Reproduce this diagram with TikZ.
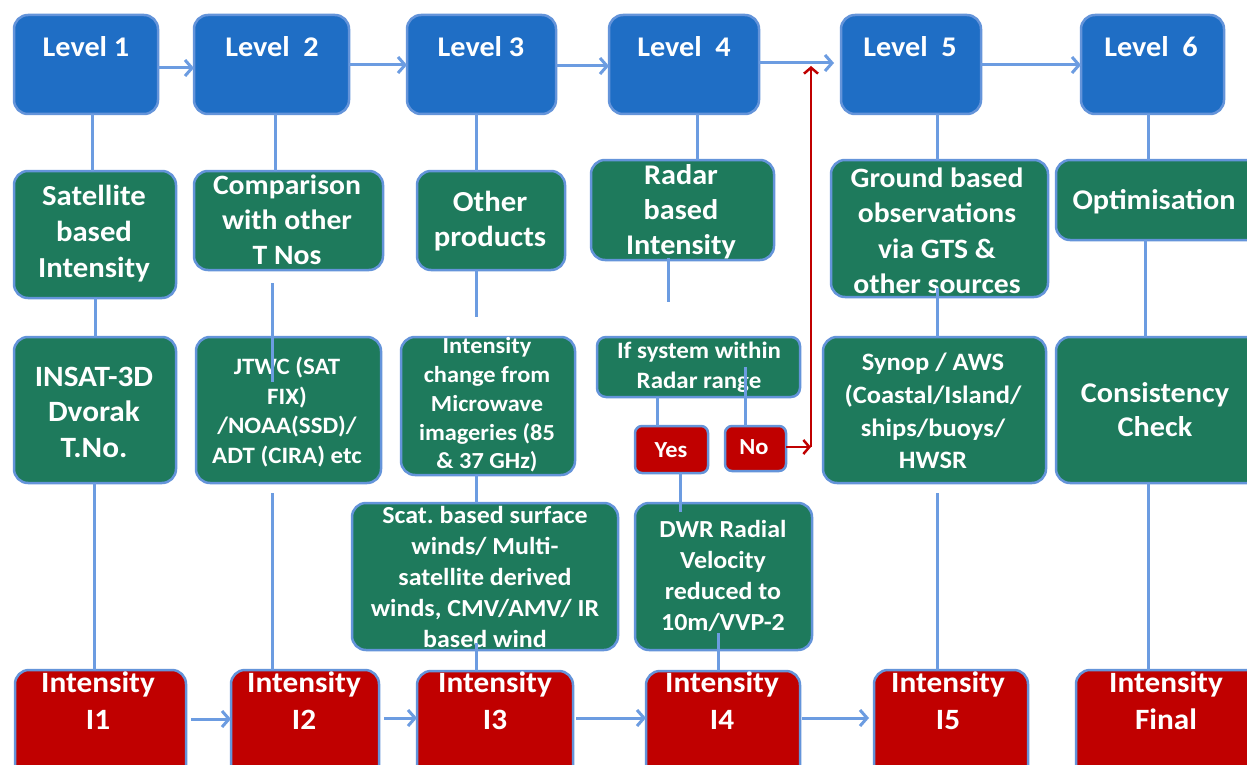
\documentclass[tikz,border=0pt]{standalone}
\usepackage{fontspec}
\setmainfont{Carlito}[FakeStretch=1.06]
\frenchspacing
\usetikzlibrary{arrows.meta}
\definecolor{bfill}{RGB}{31,110,197}
\definecolor{gfill}{RGB}{30,122,92}
\definecolor{rfill}{RGB}{192,0,0}
\definecolor{edgec}{RGB}{100,148,218}
\definecolor{connc}{RGB}{108,156,225}
\newcommand\mkbox[6]{\node[#6, minimum width={(#4)-(#2)}, minimum height={(#5)-(#3)}] (#1) at ({((#2)+(#4))/2},{((#3)+(#5))/2}) {};}
\newcommand\fsz[2]{\fontsize{#1}{#2}\selectfont\bfseries}
\tikzset{
  boxbase/.style={draw=edgec, line width=2.5pt, rounded corners=14pt, inner sep=0pt, outer sep=0pt},
  bluebox/.style={boxbase, fill=bfill},
  greenbox/.style={boxbase, fill=gfill},
  redbox/.style={boxbase, fill=rfill},
  smallgreen/.style={greenbox, rounded corners=9pt},
  smallred/.style={redbox, rounded corners=7pt},
  txt/.style={text=white, align=center, inner sep=0pt},
  conn/.style={draw=connc, line width=3pt},
  arr/.style={conn, -{Straight Barb[length=7pt,width=16pt]}},
  rarr/.style={draw=rfill, line width=2.5pt, -{Straight Barb[length=6pt,width=14pt]}}
}
\begin{document}
\begin{tikzpicture}[x=1pt,y=-1pt]
\useasboundingbox[fill=white] (0,0) rectangle (1247,765);
% top row
\mkbox{L1}{14}{15}{158}{114}{bluebox}
\mkbox{L2}{194}{15}{349}{114}{bluebox}
\mkbox{L3}{407}{15}{556}{114}{bluebox}
\mkbox{L4}{609}{15}{759}{114}{bluebox}
\mkbox{L5}{841}{15}{981}{114}{bluebox}
\mkbox{L6}{1081}{15}{1224}{114}{bluebox}
% green row 1
\mkbox{G1}{14}{171}{176}{298}{greenbox}
\mkbox{G2}{194}{171}{383}{270}{greenbox}
\mkbox{G3}{417}{171}{565}{270}{greenbox}
\mkbox{G4}{591}{160}{774}{260}{greenbox}
\mkbox{G5}{831}{160}{1048}{297}{greenbox}
\mkbox{G6}{1056}{160}{1262}{240}{greenbox}
% green row 2
\mkbox{H1}{14}{337}{176}{483}{greenbox}
\mkbox{H2}{196}{337}{381}{483}{greenbox}
\mkbox{H3}{401}{337}{575}{475}{greenbox}
\mkbox{H4}{597}{337}{800}{397}{smallgreen}
\mkbox{H5}{823}{337}{1046}{483}{greenbox}
\mkbox{H6}{1056}{337}{1262}{483}{greenbox}
\mkbox{Yes}{635}{426}{708}{473}{smallred}
\mkbox{No}{725}{426}{786}{471}{smallred}
% green row 3
\mkbox{S3}{352}{503}{618}{650}{greenbox}
\mkbox{S4}{635}{503}{812}{650}{greenbox}
% bottom row
\mkbox{I1}{15}{670}{186}{780}{redbox}
\mkbox{I2}{231}{670}{379}{780}{redbox}
\mkbox{I3}{417}{671}{573}{780}{redbox}
\mkbox{I4}{646}{671}{800}{780}{redbox}
\mkbox{I5}{874}{670}{1028}{780}{redbox}
\mkbox{IF}{1076}{670}{1262}{780}{redbox}

% texts
\node[txt, font=\fsz{28.5}{33}] (tL1) at (86,47) {Level 1};
\node[txt, font=\fsz{28.5}{33}] (tL2) at (272,47) {Level~~2};
\node[txt, font=\fsz{28.5}{33}] (tL3) at (481,47) {Level 3};
\node[txt, font=\fsz{28.5}{33}] (tL4) at (684,47) {Level~~4};
\node[txt, font=\fsz{28.5}{33}] (tL5) at (910,47) {Level~~5};
\node[txt, font=\fsz{28.5}{33}] (tL6) at (1151,47) {Level~~6};

\node[txt, font=\fsz{29}{36}] (tG1) at (94,234) {Satellite\\based\\Intensity};
\node[txt, font=\fsz{28}{35}] (tG2) at (287,220) {Comparison\\with other\\T Nos};
\node[txt, font=\fsz{29}{35}] (tG3) at (490,221) {Other\\products};
\node[txt, font=\fsz{28.5}{35}] (tG4) at (681,212) {Radar\\based\\Intensity};
\node[txt, font=\fsz{28}{35.5}] (tG5) at (937,231) {Ground based\\observations\\via GTS \&\\other sources};
\node[txt, font=\fsz{28.5}{35}] (tG6) at (1154,202) {Optimisation};

\node[txt, font=\fsz{29.5}{35.5}] (tH1) at (94,412) {INSAT-3D\\Dvorak\\T.No.};
\node[txt, font=\fsz{23.5}{29.7}] (tH2) at (287,412) {JTWC (SAT\\FIX)\\/NOAA(SSD)/\\ADT (CIRA) etc};
\node[txt, font=\fsz{23}{28.8}] (tH3) at (487,405) {Intensity\\change from\\Microwave\\imageries (85\\\& 37 GHz)};
\node[txt, font=\fsz{23.5}{30}] (tH4) at (699,367) {If system within\\Radar range};
\node[txt, font=\fsz{25}{32.7}] (tH5) at (933,411) {Synop / AWS\\(Coastal/Island/\\ships/buoys/\\HWSR};
\node[txt, font=\fsz{28.5}{34}] (tH6) at (1155,410) {Consistency\\Check};
\node[txt, font=\fsz{23}{28}] (tYes) at (671,450) {Yes};
\node[txt, font=\fsz{23}{28}] (tNo) at (754,447) {No};

\node[txt, font=\fsz{24.5}{31.2}] (tS3) at (485,577) {Scat. based surface\\winds/ Multi-\\satellite derived\\winds, CMV/AMV/ IR\\based wind};
\node[txt, font=\fsz{24.5}{31}] (tS4) at (723,576) {DWR Radial\\Velocity\\reduced to\\10m/VVP-2};

\node[txt, font=\fsz{29.5}{37}] (tI1) at (98,701) {Intensity\\I1};
\node[txt, font=\fsz{29.5}{37}] (tI2) at (304,701) {Intensity\\I2};
\node[txt, font=\fsz{29.5}{37}] (tI3) at (495,701) {Intensity\\I3};
\node[txt, font=\fsz{29.5}{37}] (tI4) at (722,701) {Intensity\\I4};
\node[txt, font=\fsz{29.5}{37}] (tI5) at (948,701) {Intensity\\I5};
\node[txt, font=\fsz{29.5}{37}] (tIF) at (1166,701) {Intensity\\Final};

% free ends
\coordinate (c2a) at (272,283);
\coordinate (c2b) at (272,382);
\coordinate (c2c) at (272,493);
\coordinate (c3a) at (476,317);
\coordinate (c3b) at (476,643);
\coordinate (c4a) at (668,258);
\coordinate (c4b) at (668,302);
\coordinate (c4c) at (745,367);
\coordinate (c4d) at (680,512);
\coordinate (c4e) at (718,633);
\coordinate (c5a) at (937,288);
\coordinate (c5b) at (937,493);
\coordinate (rc) at (811,447);
\coordinate (rt) at (811,66);

% vertical connectors
\draw[conn] (L1.south -| 92,0) -- (G1.north -| 92,0);
\draw[conn] (G1.south -| 95,0) -- (H1.north -| 95,0);
\draw[conn] (H1.south -| 94,0) -- (I1.north -| 94,0);
\draw[conn] (L2.south -| 275,0) -- (G2.north -| 275,0);
\draw[conn] (c2a) -- (c2b);
\draw[conn] (c2c) -- (I2.north -| c2c);
\draw[conn] (L3.south -| 476,0) -- (G3.north -| 476,0);
\draw[conn] (G3.south -| 476,0) -- (c3a);
\draw[conn] (H3.south -| 476,0) -- (S3.north -| 476,0);
\draw[conn] (c3b) -- (I3.north -| c3b);
\draw[conn] (L4.south -| 697,0) -- (G4.north -| 697,0);
\draw[conn] (c4a) -- (c4b);
\draw[conn] (H4.south -| 657,0) -- (Yes.north -| 657,0);
\draw[conn] (c4c) -- (No.north -| c4c);
\draw[conn] (Yes.south -| c4d) -- (c4d);
\draw[conn] (c4e) -- (I4.north -| c4e);
\draw[conn] (L5.south -| 937,0) -- (G5.north -| 937,0);
\draw[conn] (c5a) -- (H5.north -| c5a);
\draw[conn] (c5b) -- (I5.north -| c5b);
\draw[conn] (L6.south -| 1148,0) -- (G6.north -| 1148,0);
\draw[conn] (G6.south -| 1145,0) -- (H6.north -| 1145,0);
\draw[conn] (H6.south -| 1148,0) -- (IF.north -| 1148,0);

% horizontal arrows
\draw[arr] (L1.east |- 0,68) -- (L2.west |- 0,68);
\draw[arr] (L2.east |- 0,65) -- (L3.west |- 0,65);
\draw[arr] (L3.east |- 0,66) -- (L4.west |- 0,66);
\draw[arr, shorten >=7pt] (L4.east |- 0,63) -- (L5.west |- 0,63);
\draw[arr] (L5.east |- 0,65) -- (L6.west |- 0,65);
\draw[arr, shorten <=5pt] (I1.east |- 0,719) -- (I2.west |- 0,719);
\draw[arr, shorten <=5pt] (I2.east |- 0,718) -- (I3.west |- 0,718);
\draw[arr, shorten <=3pt] (I3.east |- 0,718) -- (I4.west |- 0,718);
\draw[arr, shorten <=2pt, shorten >=5pt] (I4.east |- 0,718) -- (I5.west |- 0,718);

% red arrows
\draw[rarr] (No.east |- rc) -- (rc);
\draw[rarr] (rc) -- (rt);
\end{tikzpicture}
\end{document}
